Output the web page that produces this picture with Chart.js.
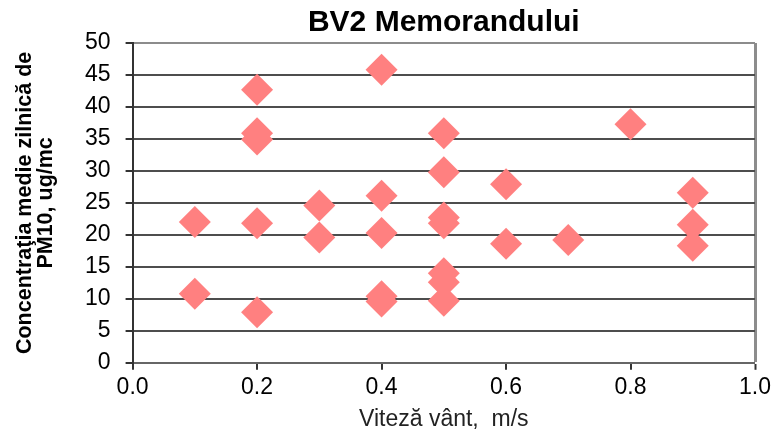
<!DOCTYPE html>
<html>
<head>
<meta charset="utf-8">
<script src="https://cdn.jsdelivr.net/npm/chart.js@4"></script>
<style>
  html, body { margin: 0; padding: 0; background: #fff; }
  #wrap { width: 776px; height: 433px; }
</style>
</head>
<body>
<div id="wrap"><canvas id="chart" width="776" height="433"></canvas></div>
<script>
// wind speed (m/s) and daily PM10 mean (ug/mc)
const windSpeed = [0.1, 0.1,
  0.2, 0.2, 0.2, 0.2, 0.2,
  0.3, 0.3,
  0.4, 0.4, 0.4, 0.4, 0.4,
  0.5, 0.5, 0.5, 0.5, 0.5, 0.5, 0.5,
  0.6, 0.6,
  0.7,
  0.8,
  0.9, 0.9, 0.9];
const pm10 = [22.0, 10.8,
  42.7, 35.9, 34.9, 21.8, 7.9,
  24.6, 19.6,
  45.8, 26.1, 20.3, 10.4, 9.6,
  35.9, 29.8, 22.7, 21.8, 14.0, 12.6, 9.7,
  27.9, 18.6,
  19.2,
  37.3,
  26.6, 21.6, 18.3];
const xTicks = [0, 0.2, 0.4, 0.6, 0.8, 1.0];
const yTicks = [0, 5, 10, 15, 20, 25, 30, 35, 40, 45, 50];

const chartTitle = "BV2 Memorandului";
const xTitle = "Viteză vânt,  m/s";
const yTitle = ["Concentraţia medie zilnică de", "PM10, ug/mc"];

const points = windSpeed.map((x, i) => ({ x: x, y: pm10[i] }));
const FONT = "'Liberation Sans', Arial, sans-serif";

// title centred over the plot area, not the whole canvas
const plotTitle = {
  id: "plotTitle",
  afterDraw(chart) {
    const ctx = chart.ctx;
    const area = chart.chartArea;
    ctx.save();
    ctx.font = "bold 30px " + FONT;
    ctx.fillStyle = "#000";
    ctx.textAlign = "center";
    ctx.textBaseline = "middle";
    ctx.fillText(chartTitle, (area.left + area.right) / 2, 23);
    ctx.restore();
  }
};

new Chart(document.getElementById("chart"), {
  type: "scatter",
  data: {
    datasets: [{
      data: points,
      pointStyle: "rectRot",
      pointRadius: 16,
      pointHoverRadius: 16,
      backgroundColor: "#ff8080",
      borderWidth: 0
    }]
  },
  options: {
    responsive: false,
    animation: false,
    events: [],
    layout: { padding: { top: 43, left: 10, right: 21, bottom: 0 } },
    plugins: {
      legend: { display: false },
      title: { display: false },
      tooltip: { enabled: false }
    },
    scales: {
      x: {
        type: "linear",
        min: 0,
        max: 1,
        afterBuildTicks: axis => { axis.ticks = xTicks.map(v => ({ value: v })); },
        ticks: {
          color: "#000",
          font: { family: FONT, size: 23 },
          padding: 4,
          callback: v => v.toFixed(1)
        },
        grid: {
          color: c => (c.tick && c.tick.value === 1) ? "#8c8c8c" : "rgba(0,0,0,0)",
          lineWidth: c => (c.tick && c.tick.value === 1) ? 3 : 0,
          tickColor: "#333",
          tickLength: 7,
          tickWidth: 2
        },
        border: { color: "#666", width: 2 },
        title: {
          display: true,
          text: xTitle,
          color: "#222",
          font: { family: FONT, size: 23 },
          padding: { top: 0, bottom: 0 }
        }
      },
      y: {
        min: 0,
        max: 50,
        afterBuildTicks: axis => { axis.ticks = yTicks.map(v => ({ value: v })); },
        ticks: {
          color: "#000",
          font: { family: FONT, size: 23 },
          padding: 15
        },
        grid: {
          color: c => (c.tick && c.tick.value === 50) ? "#8c8c8c" : "#4d4d4d",
          lineWidth: 2,
          tickColor: "#333",
          tickLength: 7,
          tickWidth: 2
        },
        border: { color: "#333", width: 2 },
        title: {
          display: true,
          text: yTitle,
          color: "#000",
          font: { family: FONT, size: 21.5, weight: "bold", lineHeight: 1.0 },
          padding: { top: 4, bottom: 13 }
        }
      }
    }
  },
  plugins: [plotTitle]
});
</script>
</body>
</html>
